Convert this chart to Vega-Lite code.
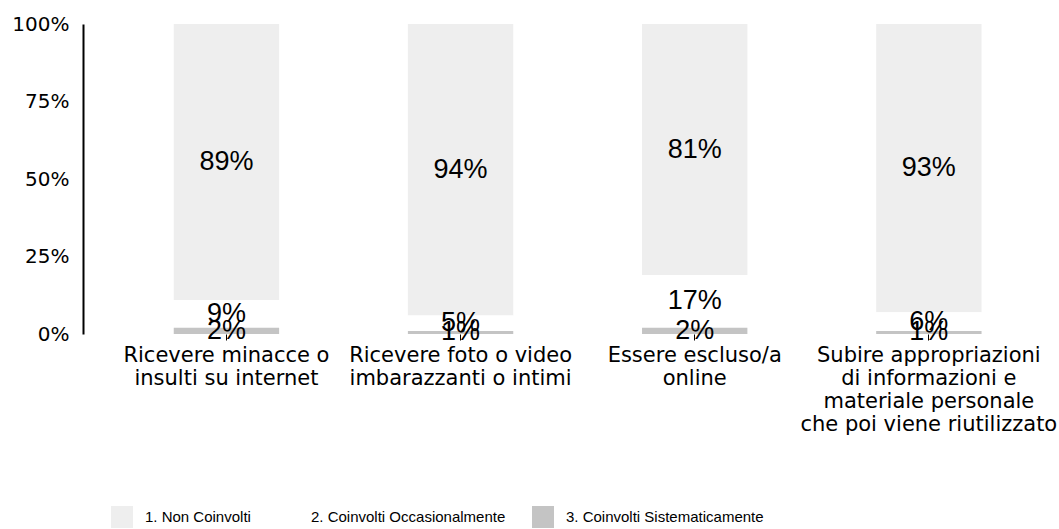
{
  "$schema": "https://vega.github.io/schema/vega-lite/v6.json",
  "autosize": "none",
  "width": 967,
  "height": 310,
  "padding": {"left": 83, "top": 24, "right": 9, "bottom": 195},
  "background": "white",
  "config": {"view": {"stroke": null}},
  "data": {
    "values": [
      {"attivita": "Ricevere minacce o|insulti su internet", "gruppo": "1. Non Coinvolti", "value": 0.89},
      {"attivita": "Ricevere minacce o|insulti su internet", "gruppo": "2. Coinvolti Occasionalmente", "value": 0.09},
      {"attivita": "Ricevere minacce o|insulti su internet", "gruppo": "3. Coinvolti Sistematicamente", "value": 0.02},
      {"attivita": "Ricevere foto o video|imbarazzanti o intimi", "gruppo": "1. Non Coinvolti", "value": 0.94},
      {"attivita": "Ricevere foto o video|imbarazzanti o intimi", "gruppo": "2. Coinvolti Occasionalmente", "value": 0.05},
      {"attivita": "Ricevere foto o video|imbarazzanti o intimi", "gruppo": "3. Coinvolti Sistematicamente", "value": 0.01},
      {"attivita": "Essere escluso/a|online", "gruppo": "1. Non Coinvolti", "value": 0.81},
      {"attivita": "Essere escluso/a|online", "gruppo": "2. Coinvolti Occasionalmente", "value": 0.17},
      {"attivita": "Essere escluso/a|online", "gruppo": "3. Coinvolti Sistematicamente", "value": 0.02},
      {"attivita": "Subire appropriazioni|di informazioni e|materiale personale|che poi viene riutilizzato", "gruppo": "1. Non Coinvolti", "value": 0.93},
      {"attivita": "Subire appropriazioni|di informazioni e|materiale personale|che poi viene riutilizzato", "gruppo": "2. Coinvolti Occasionalmente", "value": 0.06},
      {"attivita": "Subire appropriazioni|di informazioni e|materiale personale|che poi viene riutilizzato", "gruppo": "3. Coinvolti Sistematicamente", "value": 0.01}
    ]
  },
  "transform": [
    {"stack": "value", "groupby": ["attivita"], "sort": [{"field": "gruppo", "order": "descending"}], "as": ["v0", "v1"]},
    {"calculate": "(datum.v0 + datum.v1) / 2", "as": "vmid"}
  ],
  "encoding": {
    "x": {
      "field": "attivita",
      "type": "nominal",
      "sort": null,
      "scale": {"paddingInner": 0.55, "paddingOuter": 0.34, "align": 0.57},
      "axis": {
        "title": null,
        "domain": false,
        "ticks": true,
        "tickColor": "black",
        "tickSize": 6,
        "labelAngle": 0,
        "labelExpr": "split(datum.label, '|')",
        "labelFont": "DejaVu Sans",
        "labelFontSize": 21,
        "labelColor": "black",
        "labelPadding": 4,
        "labelLineHeight": 23,
        "labelLimit": 0
      }
    }
  },
  "layer": [
    {
      "mark": {"type": "bar"},
      "encoding": {
        "y": {
          "field": "v0",
          "type": "quantitative",
          "scale": {"domain": [0, 1], "nice": false},
          "axis": {
            "title": null,
            "format": ".0%",
            "values": [0, 0.25, 0.5, 0.75, 1],
            "grid": false,
            "ticks": false,
            "domainColor": "black",
            "domainWidth": 2,
            "labelFont": "DejaVu Sans",
            "labelFontSize": 20,
            "labelColor": "black",
            "labelPadding": 14
          }
        },
        "y2": {"field": "v1"},
        "color": {
          "field": "gruppo",
          "type": "nominal",
          "scale": {
            "domain": ["1. Non Coinvolti", "2. Coinvolti Occasionalmente", "3. Coinvolti Sistematicamente"],
            "range": ["#eeeeee", "#ffffff", "#c4c4c4"]
          },
          "legend": {
            "orient": "none",
            "legendX": 28,
            "legendY": 482,
            "direction": "horizontal",
            "columns": 3,
            "title": null,
            "symbolType": "square",
            "symbolSize": 484,
            "symbolStrokeWidth": 0,
            "symbolOpacity": 1,
            "labelFont": "Liberation Sans",
            "labelFontSize": 15,
            "labelColor": "black",
            "labelOffset": 12,
            "labelLimit": 0,
            "columnPadding": 26
          }
        }
      }
    },
    {
      "mark": {"type": "text", "font": "Liberation Sans", "fontSize": 27, "color": "black", "baseline": "middle", "align": "center"},
      "encoding": {
        "y": {"field": "vmid", "type": "quantitative"},
        "text": {"field": "value", "type": "quantitative", "format": ".0%"}
      }
    }
  ]
}
